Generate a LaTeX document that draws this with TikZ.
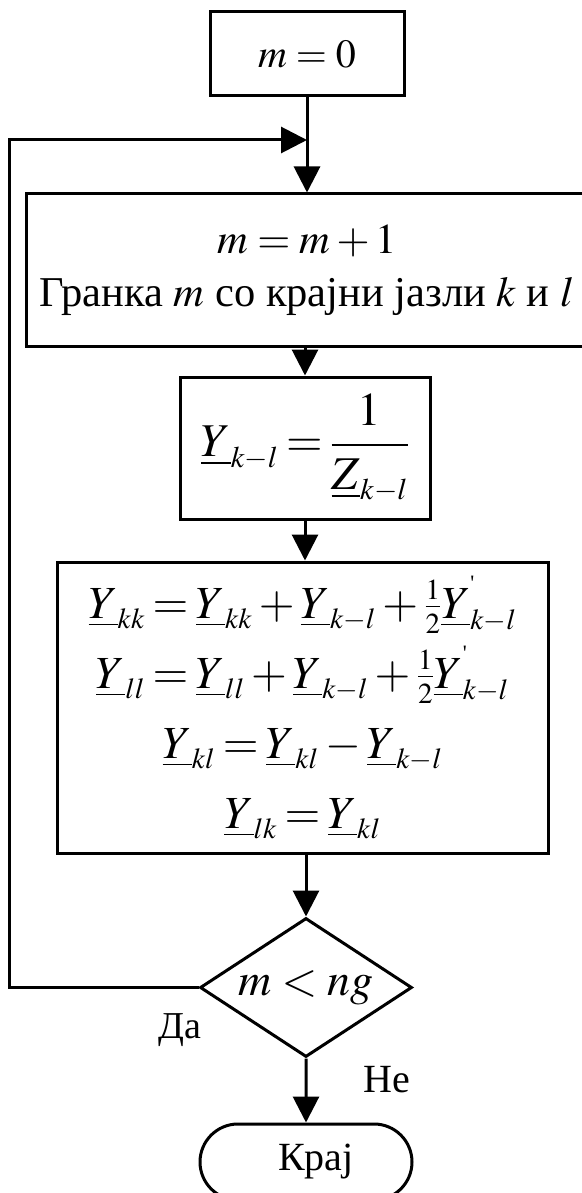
\documentclass[tikz,border=0pt]{standalone}
\usepackage{amsmath}
\usepackage{mathptmx}
\usepackage[no-math]{fontspec}
\setmainfont{Liberation Serif}
\usetikzlibrary{shapes,arrows.meta,positioning,calc}

\DeclareMathSizes{46}{46}{29}{22}
\DeclareMathSizes{47}{47}{30}{22}
\newcommand{\fs}[1]{\fontsize{#1}{#1}\selectfont}
\newcommand{\tight}{\thickmuskip=3mu\medmuskip=2.5mu}
\newcommand{\pr}{\raisebox{9pt}{\fontsize{22}{22}\selectfont\textquotesingle}}

\begin{document}
\begin{tikzpicture}[
        x=1pt, y=1pt,
        line width=3pt,
        box/.style={rectangle, draw=black, inner sep=0pt, align=center},
        decision/.style={diamond, draw=black, inner sep=0pt, shape aspect=1.525, minimum width=212pt, minimum height=139pt},
        terminal/.style={rounded rectangle, draw=black, inner sep=0pt, minimum width=212pt, minimum height=76pt},
        lbl/.style={inner sep=0pt},
        arr/.style={-{Triangle[length=26pt, width=26pt]}}
    ]
    \useasboundingbox (0,0) rectangle (581,-1193);

    % Start
    \node[box, minimum width=194pt, minimum height=84pt, font=\fs{40}] (start) at (307,-54) {$m=0$};
    \coordinate[below=42.5pt of start] (join);

    % Loop body
    \node[box, minimum width=562pt, minimum height=152pt, below=52.5pt of join,
          font=\fontsize{42.5}{53}\selectfont] (branch) {$m=m+1$\\Гранка $m$ со крајни јазли $k$ и $l$};
    \node[box, minimum width=250pt, minimum height=142pt, below=28pt of branch, xshift=-2pt,
          font=\fs{47}\tight] (adm) {$\underline{Y}_{k-l}=\dfrac{1}{\underline{Z}_{k-l}}$};
    \node[box, minimum width=491pt, minimum height=291pt, below=40pt of adm, xshift=-2.5pt,
          font=\fontsize{46}{70}\selectfont\tight] (update) {%
        $\underline{Y}_{kk}=\underline{Y}_{kk}+\underline{Y}_{k-l}+\tfrac{1}{2}\underline{Y}^{\pr}_{k-l}$\\
        $\underline{Y}_{ll}=\underline{Y}_{ll}+\underline{Y}_{k-l}+\tfrac{1}{2}\underline{Y}^{\pr}_{k-l}$\\
        $\underline{Y}_{kl}=\underline{Y}_{kl}-\underline{Y}_{k-l}$\\
        $\underline{Y}_{lk}=\underline{Y}_{kl}$};

    % Test and end
    \node[decision, below=62pt of update, xshift=3.5pt, font=\fs{46}] (check) {$m<ng$};
    \node[terminal, below=64pt of check, font=\fs{40}] (stop) {\hspace*{20pt}Крај};
    \node[lbl, below left=25pt and -4pt of check.west, font=\fs{38}] (yes) {Да};
    \node[lbl, below right=6pt and 56pt of check.south, font=\fs{40}] (no) {Не};

    % Connections
    \draw (start) -- (join);
    \draw[arr] (join) -- (join |- branch.north);
    \draw[arr] (branch.south -| adm) -- (adm);
    \draw[arr] (adm.south) -- (adm.south |- update.north);
    \draw[arr] (update.south -| check) -- (check);
    \draw[arr] (check) -- (stop);
    \draw[arr] (check.west) -- ++(-189,0) |- (join);

\end{tikzpicture}
\end{document}
